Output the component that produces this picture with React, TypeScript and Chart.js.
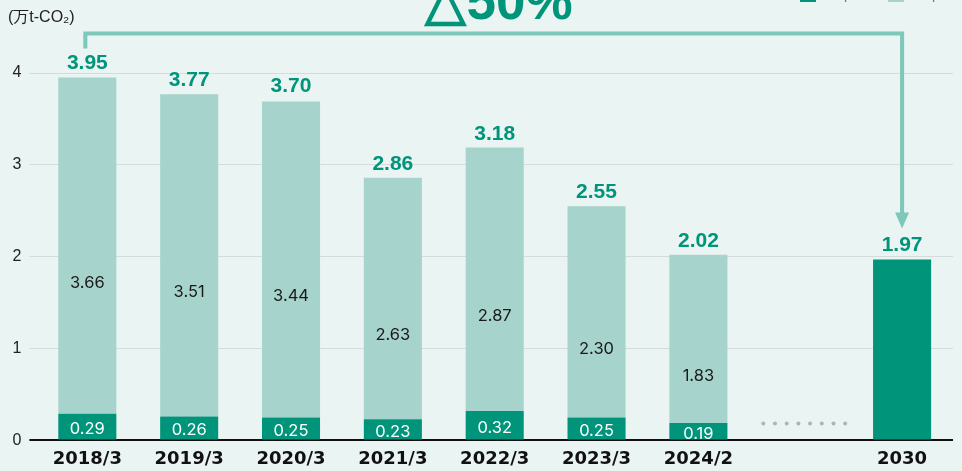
import React, { useEffect, useRef } from "react";
import { Chart, registerables } from "chart.js";

Chart.register(...registerables);

const categories = ["2018/3", "2019/3", "2020/3", "2021/3", "2022/3", "2023/3", "2024/2", "", "2030"];
const scope1 = [0.29, 0.26, 0.25, 0.23, 0.32, 0.25, 0.19, null, 1.97];
const scope2 = [3.66, 3.51, 3.44, 2.63, 2.87, 2.3, 1.83, null, null];
const totals = [3.95, 3.77, 3.7, 2.86, 3.18, 2.55, 2.02, null, 1.97];
const yTicks = [0, 1, 2, 3, 4];
const reductionLabel = "△50%";
const unitLabel = "(万t-CO₂)";
const legendLabels = ["Scope1", "Scope2"];
const gapIndex = 7;

const DARK = "#00947A";
const LIGHT = "#A6D3CB";
const ARROW = "#7DC8B9";
const BG = "#EAF4F2";
const FONT = "'Liberation Sans', Arial, Helvetica, sans-serif";
const INNER_FONT = "Inter, 'Liberation Sans', Arial, sans-serif";
const XFONT = "'DejaVu Sans', 'Liberation Sans', Arial, sans-serif";

const overlay = {
  id: "overlay",
  afterDatasetsDraw(chart: any) {
    const { ctx } = chart;
    const x = chart.scales.x;
    const y = chart.scales.y;
    ctx.save();

    // segment labels
    ctx.textAlign = "center";
    ctx.textBaseline = "middle";
    ctx.font = `16.5px ${INNER_FONT}`;
    categories.forEach((_, i) => {
      const cx = x.getPixelForValue(i);
      const s1 = scope1[i];
      const s2 = scope2[i];
      if (s1 != null && s2 != null) {
        const midDark = (y.getPixelForValue(0) + y.getPixelForValue(s1)) / 2;
        ctx.fillStyle = "#ffffff";
        ctx.fillText(s1.toFixed(2), cx, midDark + 2);
        const midLight = (y.getPixelForValue(s1) + y.getPixelForValue(s1 + s2)) / 2;
        ctx.fillStyle = "#1a1a1a";
        ctx.fillText(s2.toFixed(2), cx, midLight + 37);
      }
    });

    // totals
    ctx.font = `bold 21px ${FONT}`;
    ctx.fillStyle = DARK;
    totals.forEach((t, i) => {
      if (t == null) return;
      ctx.fillText(t.toFixed(2), x.getPixelForValue(i), y.getPixelForValue(t) - 14);
    });

    // dots in gap
    const gx = x.getPixelForValue(gapIndex) + 4;
    const gy = y.getPixelForValue(0) - 17;
    ctx.fillStyle = "#AEB4B2";
    for (let k = 0; k < 8; k++) {
      ctx.beginPath();
      ctx.arc(gx + (k - 3.5) * 11.7, gy, 2, 0, Math.PI * 2);
      ctx.fill();
    }

    // arrow
    const x0 = x.getPixelForValue(0) - 2;
    const x1 = x.getPixelForValue(categories.length - 1);
    const yTop = 33.5;
    const yStart = y.getPixelForValue(totals[0] as number) - 29;
    const tip = y.getPixelForValue(totals[categories.length - 1] as number) - 31;
    ctx.strokeStyle = ARROW;
    ctx.lineWidth = 4;
    ctx.lineJoin = "miter";
    ctx.beginPath();
    ctx.moveTo(x0, yStart);
    ctx.lineTo(x0, yTop);
    ctx.lineTo(x1, yTop);
    ctx.lineTo(x1, tip - 14);
    ctx.stroke();
    ctx.fillStyle = ARROW;
    ctx.beginPath();
    ctx.moveTo(x1 - 7, tip - 16);
    ctx.lineTo(x1 + 7, tip - 16);
    ctx.lineTo(x1, tip);
    ctx.closePath();
    ctx.fill();

    // title
    ctx.font = `bold 53px ${FONT}`;
    ctx.fillStyle = DARK;
    ctx.textBaseline = "alphabetic";
    ctx.fillText(reductionLabel, 499, 19);

    // unit label
    ctx.font = `16px ${FONT}`;
    ctx.fillStyle = "#222";
    ctx.textAlign = "left";
    ctx.fillText(unitLabel, 8, 22);

    // legend (cropped at top)
    ctx.font = `14px ${FONT}`;
    const lx = [800, 888];
    const lc = [DARK, LIGHT];
    legendLabels.forEach((l, i) => {
      ctx.fillStyle = lc[i];
      ctx.fillRect(lx[i], -14, 16, 16);
      ctx.fillStyle = "#777";
      ctx.fillText(l, lx[i] + 20, -1);
    });

    ctx.restore();
  },
};

export default function App() {
  const ref = useRef<HTMLCanvasElement | null>(null);
  useEffect(() => {
    document.body.style.margin = "0";
    document.body.style.background = BG;
    const chart = new Chart(ref.current as HTMLCanvasElement, {
      type: "bar",
      data: {
        labels: categories,
        datasets: [
          { label: legendLabels[0], data: scope1 as any, backgroundColor: DARK, categoryPercentage: 1, barPercentage: 0.57 },
          { label: legendLabels[1], data: scope2 as any, backgroundColor: LIGHT, categoryPercentage: 1, barPercentage: 0.57 },
        ],
      },
      options: {
        animation: false,
        responsive: false,
        maintainAspectRatio: false,
        layout: { padding: { left: 4.5, right: 9, top: 73, bottom: -7 } },
        plugins: { legend: { display: false }, tooltip: { enabled: false } },
        scales: {
          x: {
            stacked: true,
            grid: { display: false, drawTicks: false },
            border: { display: false },
            ticks: { color: "#111", font: { family: XFONT, size: 18, weight: "bold" }, padding: 8, maxRotation: 0, autoSkip: false },
          },
          y: {
            stacked: true,
            min: 0,
            max: 4,
            afterBuildTicks: (s: any) => { s.ticks = yTicks.map((v) => ({ value: v })); },
            grid: {
              color: (c: any) => (c.tick && c.tick.value === 0 ? "#111" : "#D3DCDA"),
              lineWidth: (c: any) => (c.tick && c.tick.value === 0 ? 2 : 1),
              tickLength: 7,
            },
            border: { display: false },
            ticks: { color: "#222", font: { family: FONT, size: 16 }, padding: 8 },
          },
        },
      },
      plugins: [overlay],
    });
    return () => chart.destroy();
  }, []);
  return (
    <div style={{ position: "fixed", left: 0, top: 0, width: 962, height: 471, background: BG }}>
      <canvas ref={ref} width={962} height={471} style={{ display: "block", width: 962, height: 471 }} />
    </div>
  );
}
